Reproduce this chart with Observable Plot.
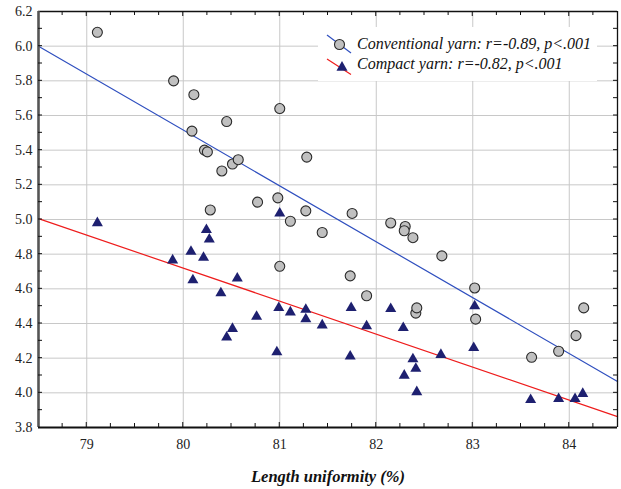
<!DOCTYPE html>
<html><head><meta charset="utf-8">
<script src="https://cdn.jsdelivr.net/npm/d3@7"></script>
<script src="https://cdn.jsdelivr.net/npm/@observablehq/plot@0.6"></script>
<style>
body{margin:0;background:#fff}
</style>
</head><body><div id="chart"></div>
<script>
const convX = [79.11, 79.90, 80.11, 80.09, 80.45, 80.22, 80.25, 80.40, 80.51, 80.57, 81.00, 81.28, 80.28, 80.77, 80.98, 81.11, 81.27, 81.44, 81.75, 82.15, 82.30, 82.29, 82.38, 82.68, 81.73, 81.90, 83.02, 82.41, 82.42, 83.03, 84.15, 84.07, 83.89, 83.61, 81.00];
const convY = [6.08, 5.80, 5.72, 5.51, 5.565, 5.40, 5.39, 5.28, 5.32, 5.345, 5.64, 5.36, 5.055, 5.10, 5.125, 4.99, 5.05, 4.925, 5.035, 4.98, 4.96, 4.935, 4.895, 4.79, 4.675, 4.56, 4.605, 4.46, 4.49, 4.425, 4.49, 4.33, 4.24, 4.205, 4.73];
const compX = [79.11, 79.89, 80.08, 80.24, 80.27, 80.21, 80.10, 80.56, 80.39, 80.76, 80.45, 80.51, 80.99, 81.11, 81.27, 81.27, 80.97, 81.44, 81.00, 81.74, 81.73, 81.90, 82.15, 82.28, 82.38, 82.41, 82.29, 82.42, 82.67, 83.02, 83.01, 83.60, 83.89, 84.06, 84.14];
const compY = [4.98, 4.765, 4.815, 4.94, 4.885, 4.78, 4.65, 4.66, 4.575, 4.44, 4.32, 4.37, 4.49, 4.465, 4.48, 4.425, 4.235, 4.39, 5.035, 4.49, 4.21, 4.385, 4.485, 4.375, 4.195, 4.14, 4.10, 4.005, 4.22, 4.50, 4.26, 3.96, 3.965, 3.965, 3.995];
const fitX = [78.5, 84.5];
const convFit = [6.0, 4.065];
const compFit = [5.005, 3.863];
const xDomain = [78.5, 84.5];
const yDomain = [3.8, 6.2];
const xTicks = [79, 80, 81, 82, 83, 84];
const yTicks = [3.8, 4.0, 4.2, 4.4, 4.6, 4.8, 5.0, 5.2, 5.4, 5.6, 5.8, 6.0, 6.2];
const xMinor = d3.range(78.75, 84.5, 0.25);
const yMinor = d3.range(3.9, 6.15, 0.1);
const legendLabels = ["Conventional yarn: r=-0.89, p<.001", "Compact yarn: r=-0.82, p<.001"];
const xTitle = "Length uniformity (%)";

const BLUE = "#2f4fbf", RED = "#ee1c1c", NAVY = "#1e2070";
const SERIF = "Liberation Serif";

const plot = Plot.plot({
  width: 621, height: 489,
  marginLeft: 38, marginRight: 4, marginTop: 11, marginBottom: 62,
  x: {domain: xDomain},
  y: {domain: yDomain},
  style: {fontSize: "14px", color: "#222", background: "#fff"},
  marks: [
    Plot.gridX(xTicks, {stroke: "#c8c8c8", strokeOpacity: 1}),
    Plot.gridY(yTicks, {stroke: "#c8c8c8", strokeOpacity: 1}),
    Plot.axisX(xTicks, {tickSize: 0, tickPadding: 12, label: null, fontSize: 14}),
    Plot.axisY(yTicks, {tickSize: 0, tickPadding: 6, tickFormat: d3.format(".1f"), label: null, fontSize: 14}),
    Plot.line(fitX, {x: fitX, y: convFit, stroke: BLUE, strokeWidth: 1.2}),
    Plot.line(fitX, {x: fitX, y: compFit, stroke: RED, strokeWidth: 1.2}),
    Plot.dot(convX, {x: convX, y: convY, r: 5, fill: "#c0c0c0", stroke: "#2a2a2a", strokeWidth: 1.1}),
    Plot.dot(compX, {x: compX, y: compY, symbol: "triangle", r: 4.1, fill: NAVY, stroke: "none"}),
    Plot.ruleY([yDomain[1]], {stroke: "#111", strokeWidth: 1.3}),
    Plot.ruleX([xDomain[1]], {stroke: "#111", strokeWidth: 1.3}),
    Plot.ruleX([xDomain[0]], {stroke: "#555", strokeWidth: 2.6}),
    Plot.ruleY([yDomain[0]], {stroke: "#111", strokeWidth: 2}),
    Plot.text([xTitle], {frameAnchor: "bottom", dy: 54, fontSize: 16.5, fontWeight: "bold", fontStyle: "italic", fill: "#111"})
  ]
});
document.getElementById("chart").appendChild(plot);

const sx = plot.scale("x"), sy = plot.scale("y");
const svg = d3.select(plot);
const X0 = sx.apply(xDomain[0]), X1 = sx.apply(xDomain[1]);
const Y0 = sy.apply(yDomain[0]), Y1 = sy.apply(yDomain[1]);
const tg = svg.append("g").attr("stroke", "#111").attr("stroke-width", 1);
for (const v of xMinor) {
  const px = sx.apply(v);
  const len = Number.isInteger(+v.toFixed(2)) ? 5 : 4;
  tg.append("line").attr("x1", px).attr("x2", px).attr("y1", Y0).attr("y2", Y0 - len);
  tg.append("line").attr("x1", px).attr("x2", px).attr("y1", Y1).attr("y2", Y1 + len);
}
for (const v of yMinor) {
  const py = sy.apply(v);
  tg.append("line").attr("x1", X0).attr("x2", X0 + 4).attr("y1", py).attr("y2", py);
  tg.append("line").attr("x1", X1).attr("x2", X1 - 4).attr("y1", py).attr("y2", py);
}

// legend
const lg = svg.append("g");
lg.append("rect").attr("x", 318).attr("y", 27).attr("width", 279).attr("height", 54).attr("fill", "#fff");
lg.append("line").attr("x1", 327).attr("y1", 35).attr("x2", 351).attr("y2", 53).attr("stroke", BLUE).attr("stroke-width", 1.2);
lg.append("circle").attr("cx", 339.5).attr("cy", 44.5).attr("r", 5).attr("fill", "#c0c0c0").attr("stroke", "#2a2a2a").attr("stroke-width", 1.1);
lg.append("line").attr("x1", 327).attr("y1", 59).attr("x2", 351).attr("y2", 74.5).attr("stroke", RED).attr("stroke-width", 1.2);
lg.append("path").attr("d", d3.symbol(d3.symbolTriangle, Math.PI * 4.1 * 4.1)()).attr("transform", "translate(342,67.5)").attr("fill", NAVY);
legendLabels.forEach((t, i) => {
  lg.append("text").attr("x", 357).attr("y", 49 + i * 19.5).attr("text-anchor", "start")
    .attr("font-size", 16).attr("font-style", "italic").attr("fill", "#111").text(t);
});
svg.style("font-family", SERIF, "important");
svg.selectAll("text").attr("font-family", SERIF).style("font-family", SERIF, "important");
</script>
</body></html>
